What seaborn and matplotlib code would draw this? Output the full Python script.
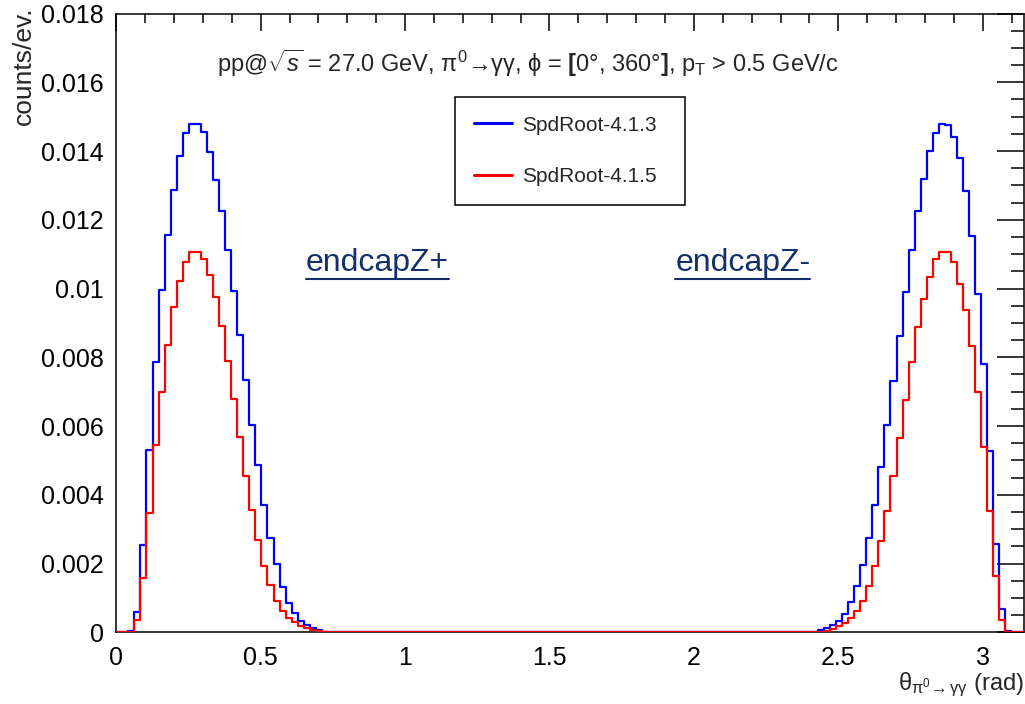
import numpy as np
import pandas as pd
import matplotlib
matplotlib.use("Agg")
import matplotlib.pyplot as plt
import seaborn as sns
from matplotlib.ticker import MultipleLocator, FuncFormatter

# ---------------- data ----------------
N_BINS = 150
THETA_MAX = np.pi
LEFT_START_BIN = 2      # first bin index of the endcapZ+ peak lists
RIGHT_START_BIN = 116   # first bin index of the endcapZ- peak lists

# counts/ev. in units of 1e-3
spd413_left = [0.05, 0.60, 2.55, 5.29, 7.87, 9.95, 11.55, 12.87, 13.85, 14.51,
               14.80, 14.78, 14.55, 13.98, 13.17, 12.27, 11.11, 9.93, 8.65, 7.35,
               6.04, 4.87, 3.70, 2.73, 1.98, 1.33, 0.85, 0.57, 0.32, 0.22, 0.12, 0.07]
spd413_right = [0.07, 0.12, 0.22, 0.32, 0.52, 0.87, 1.35, 1.95, 2.75, 3.70,
                4.82, 6.04, 7.30, 8.62, 9.89, 11.11, 12.25, 13.19, 14.00, 14.51,
                14.80, 14.76, 14.40, 13.80, 12.84, 11.52, 9.84, 7.80, 5.27, 2.58, 0.67, 0.03]
spd415_left = [0.00, 0.35, 1.58, 3.48, 5.44, 7.00, 8.37, 9.46, 10.21, 10.76,
               11.06, 11.06, 10.86, 10.39, 9.76, 8.91, 7.90, 6.80, 5.69, 4.56,
               3.56, 2.70, 1.93, 1.37, 0.92, 0.62, 0.42, 0.29, 0.17, 0.12, 0.07, 0.05]
spd415_right = [0.02, 0.05, 0.09, 0.17, 0.27, 0.42, 0.62, 0.92, 1.35, 1.93,
                2.65, 3.53, 4.56, 5.64, 6.75, 7.85, 8.88, 9.71, 10.34, 10.86,
                11.06, 11.06, 10.76, 10.14, 9.38, 8.33, 7.00, 5.39, 3.53, 1.63, 0.37, 0.02]

versions = ["SpdRoot-4.1.3", "SpdRoot-4.1.5"]
colors = {"SpdRoot-4.1.3": "#0000ff", "SpdRoot-4.1.5": "#ff0000"}

title_text = (r"pp@$\sqrt{s}$ = 27.0 GeV, π$^{0}$→γγ, ϕ = "
              r"$\mathbf{[}$0°, 360°$\mathbf{]}$, p$_{\mathrm{T}}$ > 0.5 GeV/c")
x_label = r"θ$_{\mathrm{π^{0}}\!\rightarrow\mathrm{γγ}}$ (rad)"
y_label = "counts/ev."
region_labels = ["endcapZ+", "endcapZ-"]


def full_hist(left, right):
    w = np.zeros(N_BINS)
    w[LEFT_START_BIN:LEFT_START_BIN + len(left)] = np.array(left) * 1e-3
    w[RIGHT_START_BIN:RIGHT_START_BIN + len(right)] = np.array(right) * 1e-3
    return w


centers = (np.arange(N_BINS) + 0.5) * THETA_MAX / N_BINS
frames = []
for ver, (l, r) in zip(versions, [(spd413_left, spd413_right), (spd415_left, spd415_right)]):
    frames.append(pd.DataFrame({"theta": centers, "w": full_hist(l, r), "version": ver}))
df = pd.concat(frames, ignore_index=True)

# ---------------- style ----------------
sns.set_style("white")
plt.rcParams["font.family"] = ["Liberation Sans", "DejaVu Sans"]
plt.rcParams["mathtext.fontset"] = "custom"
plt.rcParams["mathtext.rm"] = "Liberation Sans"
plt.rcParams["mathtext.it"] = "Liberation Sans:italic"
plt.rcParams["mathtext.bf"] = "Liberation Sans:bold"
plt.rcParams["mathtext.sf"] = "Liberation Sans"

fig = plt.figure(figsize=(10.25, 7.04), dpi=100)
ax = fig.add_axes([0.1134, 0.1018, 0.8852, 0.8790])

for ver in versions:
    sns.histplot(data=df[df.version == ver], x="theta", weights="w",
                 bins=N_BINS, binrange=(0, THETA_MAX), element="step", fill=False,
                 color=colors[ver], linewidth=1.6, ax=ax, zorder=3)

ax.set_xlim(0, THETA_MAX)
ax.set_ylim(0, 0.018)

for s in ax.spines.values():
    s.set_color("black")
    s.set_linewidth(1.1)

ax.xaxis.set_major_locator(MultipleLocator(0.5))
ax.xaxis.set_minor_locator(MultipleLocator(0.1))
ax.yaxis.set_major_locator(MultipleLocator(0.002))
ax.yaxis.set_minor_locator(MultipleLocator(0.0005))
ax.xaxis.set_major_formatter(FuncFormatter(lambda v, p: f"{v:g}"))
ax.yaxis.set_major_formatter(FuncFormatter(lambda v, p: f"{v:g}"))

ax.tick_params(which="both", direction="in", top=True, right=True, colors="black",
               labelsize=18, width=1.1)
ax.tick_params(axis="x", which="major", length=12.5, pad=10)
ax.tick_params(axis="x", which="minor", length=6.2)
ax.tick_params(axis="y", which="major", length=19.5, pad=9)
ax.tick_params(axis="y", which="minor", length=9.7)

ax.set_xlabel(x_label, fontsize=17, loc="right")
ax.xaxis.set_label_coords(1.0, -0.062)
ax.set_ylabel(y_label, fontsize=19, loc="top")
ax.yaxis.set_label_coords(-0.089, 1.012)

ax.text(0.4533, 0.905, title_text, transform=ax.transAxes, ha="center",
        va="baseline", fontsize=17)

handles = ax.lines[:2]
leg = ax.legend(handles, versions, loc="upper left",
                bbox_to_anchor=(0.3734, 0.8651 - 0.2, 0.2535, 0.2), mode="expand",
                borderaxespad=0, fontsize=15, frameon=True, fancybox=False,
                edgecolor="black", framealpha=1, handlelength=1.85,
                handletextpad=0.45, labelspacing=1.55, borderpad=0.9)
leg.get_frame().set_linewidth(1.1)
for h in leg.get_lines():
    h.set_linewidth(2.2)

region_x = [0.2092, 0.6162]
texts = []
for lab, xx in zip(region_labels, region_x):
    t = ax.text(xx, 0.584, lab, transform=ax.transAxes, ha="left", va="baseline",
                fontsize=23, color="#14306a")
    texts.append(t)

fig.canvas.draw()
renderer = fig.canvas.get_renderer()
inv = ax.transAxes.inverted()
for t in texts:
    bb = t.get_window_extent(renderer)
    (x0, y0), (x1, _) = inv.transform([(bb.x0, bb.y0), (bb.x1, bb.y0)])
    ax.plot([x0, x1], [y0 - 0.001, y0 - 0.001], transform=ax.transAxes,
            color="#14306a", linewidth=1.5, clip_on=False)

fig.savefig("out.png", dpi=100)
